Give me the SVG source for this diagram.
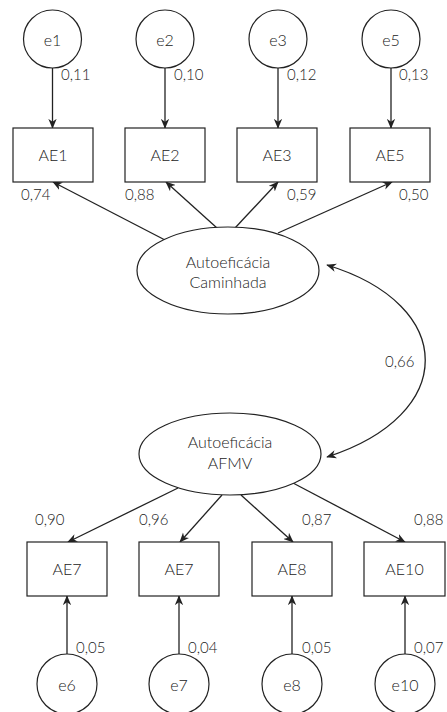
<svg xmlns="http://www.w3.org/2000/svg" width="447" height="712" viewBox="0 0 447 712">
<defs>
<marker id="ah" viewBox="0 0 12 10" refX="11" refY="5" markerWidth="10" markerHeight="9" markerUnits="userSpaceOnUse" orient="auto-start-reverse">
<path d="M0,0 L12,5 L0,10 L3.5,5 z" fill="#222"/>
</marker>
<style>
.n{fill:#fff;stroke:#222;stroke-width:1.2}
.c{stroke:#222;stroke-width:1.3;fill:none}
.t{font-family:Lato,"Liberation Sans",sans-serif;font-weight:300;font-size:16px;fill:#222;text-anchor:middle}
.v{font-family:Lato,"Liberation Sans",sans-serif;font-weight:300;font-size:15px;fill:#222}
</style>
</defs>
<rect width="447" height="712" fill="#fff"/>
<g id="connectors">
<line class="c" x1="52.5" y1="68" x2="52.5" y2="128" marker-end="url(#ah)"/>
<line class="c" x1="165" y1="68" x2="165" y2="128" marker-end="url(#ah)"/>
<line class="c" x1="278" y1="68" x2="278" y2="128" marker-end="url(#ah)"/>
<line class="c" x1="391" y1="68" x2="391" y2="128" marker-end="url(#ah)"/>
<line class="c" x1="165" y1="240" x2="53" y2="182" marker-end="url(#ah)"/>
<line class="c" x1="217" y1="228" x2="166" y2="182" marker-end="url(#ah)"/>
<line class="c" x1="235" y1="228" x2="278" y2="182" marker-end="url(#ah)"/>
<line class="c" x1="278" y1="233" x2="392" y2="182" marker-end="url(#ah)"/>
<path class="c" d="M327,265 C458,305 458,415 327,457" marker-start="url(#ah)" marker-end="url(#ah)"/>
<line class="c" x1="178" y1="488" x2="68" y2="542" marker-end="url(#ah)"/>
<line class="c" x1="222" y1="495" x2="180" y2="542" marker-end="url(#ah)"/>
<line class="c" x1="241" y1="495" x2="293" y2="542" marker-end="url(#ah)"/>
<line class="c" x1="293" y1="483" x2="405" y2="542" marker-end="url(#ah)"/>
<line class="c" x1="67" y1="654" x2="67" y2="596" marker-end="url(#ah)"/>
<line class="c" x1="179" y1="654" x2="179" y2="596" marker-end="url(#ah)"/>
<line class="c" x1="292" y1="654" x2="292" y2="596" marker-end="url(#ah)"/>
<line class="c" x1="405" y1="654" x2="405" y2="596" marker-end="url(#ah)"/>
</g>
<g id="e1"><circle class="n" cx="52.5" cy="39" r="29"/><text class="t" x="52.5" y="46">e1</text></g>
<g id="e2"><circle class="n" cx="165" cy="39" r="29"/><text class="t" x="165" y="46">e2</text></g>
<g id="e3"><circle class="n" cx="278" cy="39" r="29"/><text class="t" x="278" y="46">e3</text></g>
<g id="e5"><circle class="n" cx="391" cy="39" r="29"/><text class="t" x="391" y="46">e5</text></g>
<g id="AE1"><rect class="n" x="13" y="128" width="80" height="54"/><text class="t" x="53" y="161">AE1</text></g>
<g id="AE2"><rect class="n" x="125" y="128" width="80" height="54"/><text class="t" x="165" y="161">AE2</text></g>
<g id="AE3"><rect class="n" x="237" y="128" width="80" height="54"/><text class="t" x="277" y="161">AE3</text></g>
<g id="AE5"><rect class="n" x="350" y="128" width="80" height="54"/><text class="t" x="390" y="161">AE5</text></g>
<g id="caminhada"><ellipse class="n" cx="228" cy="270.5" rx="91" ry="43.5"/><text class="t" x="228" y="268">Autoeficácia</text><text class="t" x="228" y="288">Caminhada</text></g>
<g id="afmv"><ellipse class="n" cx="230" cy="454" rx="91" ry="41"/><text class="t" x="230" y="448">Autoeficácia</text><text class="t" x="230" y="469">AFMV</text></g>
<g id="AE7a"><rect class="n" x="27" y="542" width="80" height="54"/><text class="t" x="67" y="575">AE7</text></g>
<g id="AE7b"><rect class="n" x="139" y="542" width="80" height="54"/><text class="t" x="179" y="575">AE7</text></g>
<g id="AE8"><rect class="n" x="252" y="542" width="80" height="54"/><text class="t" x="292" y="575">AE8</text></g>
<g id="AE10"><rect class="n" x="364" y="542" width="81" height="54"/><text class="t" x="404.5" y="575">AE10</text></g>
<g id="e6"><circle class="n" cx="67" cy="684" r="30"/><text class="t" x="67" y="691">e6</text></g>
<g id="e7"><circle class="n" cx="179" cy="684" r="30"/><text class="t" x="179" y="691">e7</text></g>
<g id="e8"><circle class="n" cx="292" cy="684" r="30"/><text class="t" x="292" y="691">e8</text></g>
<g id="e10"><circle class="n" cx="405" cy="684" r="30"/><text class="t" x="405" y="691">e10</text></g>
<g id="labels">
<text class="v" x="61" y="80">0,11</text>
<text class="v" x="174" y="80">0,10</text>
<text class="v" x="287" y="80">0,12</text>
<text class="v" x="399" y="80">0,13</text>
<text class="v" x="21" y="200">0,74</text>
<text class="v" x="125" y="200">0,88</text>
<text class="v" x="287" y="200">0,59</text>
<text class="v" x="399" y="200">0,50</text>
<text class="v" x="385" y="367">0,66</text>
<text class="v" x="35" y="525">0,90</text>
<text class="v" x="139" y="525">0,96</text>
<text class="v" x="302" y="525">0,87</text>
<text class="v" x="414" y="525">0,88</text>
<text class="v" x="76" y="653">0,05</text>
<text class="v" x="188" y="653">0,04</text>
<text class="v" x="302" y="653">0,05</text>
<text class="v" x="414" y="653">0,07</text>
</g>
</svg>
